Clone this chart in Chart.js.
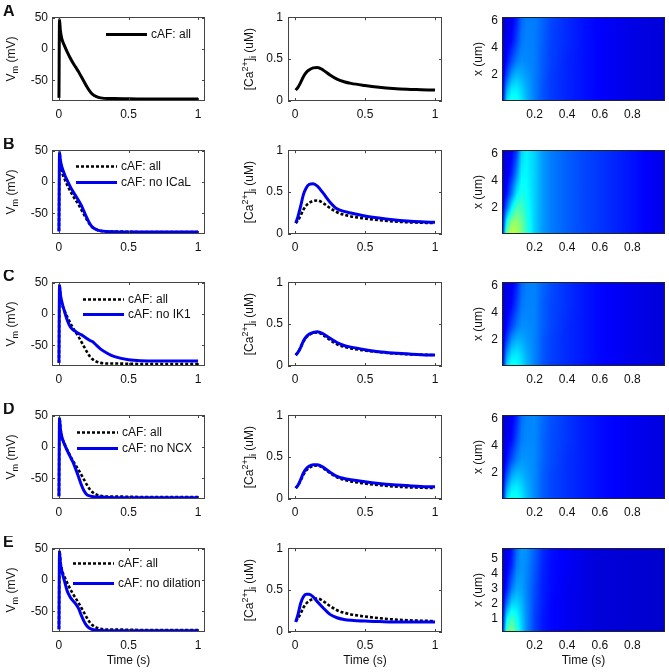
<!DOCTYPE html>
<html>
<head>
<meta charset="utf-8">
<script src="https://cdn.jsdelivr.net/npm/chart.js@4/dist/chart.umd.min.js"></script>
<style>
  html, body { margin: 0; padding: 0; background: #fff; }
  #fig { position: relative; width: 669px; height: 672px; overflow: hidden; background: #fff; }
  .panel { position: absolute; }
</style>
</head>
<body>
<div id="fig"></div>
<script>
// Membrane potential (mV)
const vmTime = [0, 0.004, 0.01, 0.02, 0.04, 0.06, 0.08, 0.1, 0.12, 0.14, 0.16, 0.18, 0.2, 0.22, 0.24, 0.27, 0.3, 0.35, 0.4, 0.5, 0.7, 1.0];
const vmAll        = [-78, 47, 30, 17, 5, -5, -14, -22, -29, -36, -44, -52, -60, -67, -72, -76, -78, -79, -79, -79.5, -80, -80];
const vmNoICaL     = [-79, 48, 35, 25, 12, 2, -7, -15, -22, -29, -37, -47, -57, -66, -72, -76, -78, -79, -79.5, -80, -80, -80];
const vmNoIK1      = [-78, 46, 32, 20, 4, -10, -20, -25, -28, -31, -33, -36, -39, -42, -44, -50, -56, -63, -68, -73, -75, -75];
const vmNoNCX      = [-79, 46, 30, 17, 4, -6, -15, -24, -35, -47, -60, -70, -76, -78, -79, -80, -80, -80.5, -81, -81, -81, -81];
const vmNoDilation = [-79, 45, 28, 15, -2, -18, -27, -33, -38, -45, -56, -66, -73, -77, -79, -80, -80.5, -81, -81, -81, -81, -81];

// Cytosolic calcium (uM)
const caTime = [0.005, 0.02, 0.04, 0.06, 0.08, 0.1, 0.13, 0.16, 0.2, 0.25, 0.3, 0.35, 0.4, 0.5, 0.6, 0.7, 0.8, 0.9, 1.0];
const caAll        = [0.13, 0.16, 0.22, 0.29, 0.34, 0.37, 0.395, 0.40, 0.37, 0.31, 0.26, 0.23, 0.21, 0.185, 0.165, 0.15, 0.14, 0.135, 0.13];
const caNoICaL     = [0.13, 0.2, 0.33, 0.47, 0.55, 0.59, 0.60, 0.57, 0.49, 0.38, 0.3, 0.27, 0.25, 0.215, 0.19, 0.17, 0.155, 0.145, 0.14];
const caNoIK1      = [0.13, 0.16, 0.22, 0.3, 0.35, 0.38, 0.40, 0.41, 0.385, 0.33, 0.28, 0.245, 0.225, 0.195, 0.17, 0.155, 0.145, 0.135, 0.13];
const caNoNCX      = [0.13, 0.16, 0.23, 0.31, 0.36, 0.39, 0.41, 0.41, 0.38, 0.32, 0.27, 0.245, 0.23, 0.205, 0.185, 0.17, 0.16, 0.15, 0.145];
const caNoDilation = [0.12, 0.2, 0.34, 0.42, 0.45, 0.45, 0.42, 0.36, 0.29, 0.21, 0.17, 0.15, 0.14, 0.13, 0.125, 0.12, 0.12, 0.12, 0.12];

// Ca (uM) over time and depth, rows follow heatDepth
const heatTime  = [0, 0.03, 0.06, 0.09, 0.12, 0.15, 0.2, 0.25, 0.3, 0.4, 0.5, 0.6, 0.8, 1.0];
const heatDepth = [0.1, 1, 2, 3, 4.5, 6.25];
const heatA = [
  [0.15, 0.60, 0.68, 0.66, 0.60, 0.52, 0.42, 0.35, 0.31, 0.27, 0.24, 0.21, 0.17, 0.15],
  [0.15, 0.48, 0.60, 0.61, 0.56, 0.50, 0.42, 0.35, 0.31, 0.27, 0.24, 0.21, 0.17, 0.15],
  [0.15, 0.33, 0.47, 0.52, 0.50, 0.47, 0.42, 0.36, 0.31, 0.27, 0.24, 0.21, 0.17, 0.15],
  [0.14, 0.24, 0.34, 0.42, 0.45, 0.44, 0.42, 0.36, 0.32, 0.27, 0.24, 0.21, 0.17, 0.15],
  [0.14, 0.18, 0.23, 0.32, 0.41, 0.43, 0.42, 0.37, 0.32, 0.28, 0.24, 0.21, 0.17, 0.15],
  [0.14, 0.16, 0.19, 0.26, 0.38, 0.42, 0.42, 0.38, 0.33, 0.28, 0.24, 0.21, 0.17, 0.15]
];
const heatB = [
  [0.15, 0.85, 0.97, 0.94, 0.84, 0.72, 0.56, 0.47, 0.42, 0.37, 0.33, 0.3, 0.24, 0.17],
  [0.15, 0.66, 0.86, 0.88, 0.81, 0.70, 0.56, 0.47, 0.42, 0.37, 0.33, 0.3, 0.24, 0.17],
  [0.15, 0.4, 0.63, 0.76, 0.75, 0.67, 0.56, 0.47, 0.42, 0.37, 0.33, 0.3, 0.24, 0.17],
  [0.15, 0.25, 0.42, 0.61, 0.68, 0.65, 0.56, 0.47, 0.42, 0.37, 0.33, 0.3, 0.24, 0.17],
  [0.15, 0.18, 0.27, 0.44, 0.62, 0.63, 0.56, 0.47, 0.42, 0.37, 0.33, 0.3, 0.24, 0.17],
  [0.15, 0.16, 0.2, 0.3, 0.56, 0.62, 0.56, 0.47, 0.42, 0.37, 0.33, 0.3, 0.24, 0.17]
];
const heatC = [
  [0.15, 0.58, 0.67, 0.65, 0.60, 0.52, 0.43, 0.36, 0.32, 0.28, 0.25, 0.22, 0.18, 0.15],
  [0.15, 0.46, 0.58, 0.60, 0.56, 0.50, 0.43, 0.36, 0.32, 0.28, 0.25, 0.22, 0.18, 0.15],
  [0.15, 0.32, 0.46, 0.51, 0.50, 0.47, 0.43, 0.36, 0.32, 0.28, 0.25, 0.22, 0.18, 0.15],
  [0.14, 0.23, 0.33, 0.41, 0.45, 0.45, 0.43, 0.37, 0.33, 0.28, 0.25, 0.22, 0.18, 0.15],
  [0.14, 0.18, 0.23, 0.32, 0.41, 0.43, 0.43, 0.37, 0.33, 0.29, 0.25, 0.22, 0.18, 0.15],
  [0.14, 0.16, 0.19, 0.26, 0.38, 0.42, 0.43, 0.38, 0.34, 0.29, 0.25, 0.22, 0.18, 0.15]
];
const heatD = [
  [0.15, 0.59, 0.68, 0.66, 0.61, 0.53, 0.44, 0.37, 0.33, 0.29, 0.26, 0.23, 0.19, 0.16],
  [0.15, 0.47, 0.59, 0.61, 0.57, 0.51, 0.44, 0.37, 0.33, 0.29, 0.26, 0.23, 0.19, 0.16],
  [0.15, 0.33, 0.47, 0.52, 0.51, 0.48, 0.44, 0.37, 0.33, 0.29, 0.26, 0.23, 0.19, 0.16],
  [0.14, 0.24, 0.34, 0.42, 0.46, 0.46, 0.44, 0.38, 0.34, 0.29, 0.26, 0.23, 0.19, 0.16],
  [0.14, 0.18, 0.23, 0.33, 0.42, 0.44, 0.44, 0.38, 0.34, 0.30, 0.26, 0.23, 0.19, 0.16],
  [0.14, 0.16, 0.19, 0.27, 0.39, 0.43, 0.44, 0.39, 0.35, 0.30, 0.26, 0.23, 0.19, 0.16]
];
const heatE = [
  [0.15, 0.78, 0.86, 0.72, 0.57, 0.45, 0.32, 0.25, 0.22, 0.19, 0.17, 0.15, 0.14, 0.13],
  [0.15, 0.62, 0.74, 0.66, 0.55, 0.45, 0.32, 0.25, 0.22, 0.19, 0.17, 0.15, 0.14, 0.13],
  [0.15, 0.4, 0.56, 0.57, 0.52, 0.44, 0.33, 0.26, 0.22, 0.19, 0.17, 0.15, 0.14, 0.13],
  [0.14, 0.26, 0.41, 0.49, 0.48, 0.43, 0.34, 0.26, 0.23, 0.19, 0.17, 0.15, 0.14, 0.13],
  [0.14, 0.19, 0.28, 0.42, 0.46, 0.44, 0.36, 0.27, 0.23, 0.2, 0.17, 0.15, 0.14, 0.13],
  [0.14, 0.16, 0.22, 0.37, 0.47, 0.46, 0.38, 0.29, 0.24, 0.2, 0.17, 0.15, 0.14, 0.13]
];

const timeTicks = [0, 0.5, 1];
const vmTicks = [-50, 0, 50];
const caTicks = [0, 0.5, 1];
const heatTimeTicks = [0.2, 0.4, 0.6, 0.8];
const depthTicks = [2, 4, 6];
const depthTicksE = [1, 2, 3, 4, 5];

const FONT = "Arial, 'Liberation Sans', sans-serif";
const TEXT = "#111";

// page geometry
const colLeft = [52, 288, 502];
const colW = [153, 154, 163];
const padR = [12, 12, 4];
const rowTop = [17, 150, 282, 415, 548];
const PLOT_H = 84;
const PAD_L = 50;
const PAD_T = 12;

const solidBlack = { borderColor: "#000", borderWidth: 3, borderDash: [] };
const dashedBlack = { borderColor: "#000", borderWidth: 2.6, borderDash: [3, 2] };
const solidBlue = { borderColor: "#0000f0", borderWidth: 3, borderDash: [] };

const rows = [
  { letter: "A", vm: vmAll, ca: caAll, other: null, otherCa: null, label: null, heat: heatA, dMin: 0.1, dMax: 6.25, dTicks: depthTicks, legend: { x: 54, y0: 17, dy: 16 } },
  { letter: "B", vm: vmAll, ca: caAll, other: vmNoICaL, otherCa: caNoICaL, label: "cAF: no ICaL", heat: heatB, dMin: 0.1, dMax: 6.25, dTicks: depthTicks, legend: { x: 24, y0: 16, dy: 16 } },
  { letter: "C", vm: vmAll, ca: caAll, other: vmNoIK1, otherCa: caNoIK1, label: "cAF: no IK1", heat: heatC, dMin: 0.1, dMax: 6.25, dTicks: depthTicks, legend: { x: 31, y0: 17, dy: 15 } },
  { letter: "D", vm: vmAll, ca: caAll, other: vmNoNCX, otherCa: caNoNCX, label: "cAF: no NCX", heat: heatD, dMin: 0.1, dMax: 6.25, dTicks: depthTicks, legend: { x: 25, y0: 17, dy: 16 } },
  { letter: "E", vm: vmAll, ca: caAll, other: vmNoDilation, otherCa: caNoDilation, label: "cAF: no dilation", heat: heatE, dMin: 0.08, dMax: 5.7, dTicks: depthTicksE, legend: { x: 21, y0: 15, dy: 20 } }
];

function series(time, values, style, label, order) {
  return {
    label: label,
    data: time.map((t, i) => ({ x: t, y: values[i] })),
    borderColor: style.borderColor,
    borderWidth: style.borderWidth,
    borderDash: style.borderDash,
    pointRadius: 0,
    fill: false,
    cubicInterpolationMode: "monotone",
    order: order
  };
}

function jet(v) {
  const c = (x) => Math.max(0, Math.min(1, x));
  return [c(1.5 - Math.abs(4 * v - 3)), c(1.5 - Math.abs(4 * v - 2)), c(1.5 - Math.abs(4 * v - 1))];
}

function findSeg(arr, v) {
  if (v <= arr[0]) return [0, 0];
  if (v >= arr[arr.length - 1]) return [arr.length - 2, 1];
  for (let i = 0; i < arr.length - 1; i++) {
    if (v <= arr[i + 1]) return [i, (v - arr[i]) / (arr[i + 1] - arr[i])];
  }
  return [arr.length - 2, 1];
}

// draws rotated axis title with sub/superscripts
function drawRotated(ctx, parts, cx, cy) {
  const big = "12px " + FONT, small = "9px " + FONT;
  const widths = parts.map(p => { ctx.font = p.shift ? small : big; return ctx.measureText(p.text).width; });
  const total = widths.reduce((a, b) => a + b, 0);
  ctx.translate(cx, cy);
  ctx.rotate(-Math.PI / 2);
  ctx.textAlign = "left";
  ctx.textBaseline = "middle";
  let x = -total / 2;
  parts.forEach((p, i) => {
    ctx.font = p.shift ? small : big;
    ctx.fillText(p.text, x, p.shift || 0);
    x += widths[i];
  });
}

function framePlugin(withTicks, color) {
  return {
    id: "frame",
    afterDatasetsDraw(chart) {
      const ctx = chart.ctx, a = chart.chartArea;
      ctx.save();
      ctx.strokeStyle = color;
      ctx.lineWidth = 1;
      ctx.setLineDash([]);
      ctx.strokeRect(Math.round(a.left) + 0.5, Math.round(a.top) + 0.5, Math.round(a.right - a.left) - 1, Math.round(a.bottom - a.top) - 1);
      if (withTicks) {
        const xs = chart.scales.x, ys = chart.scales.y;
        ctx.beginPath();
        xs.ticks.forEach(t => {
          const px = Math.round(xs.getPixelForValue(t.value)) + 0.5;
          ctx.moveTo(px, a.bottom); ctx.lineTo(px, a.bottom - 3);
          ctx.moveTo(px, a.top); ctx.lineTo(px, a.top + 3);
        });
        ys.ticks.forEach(t => {
          const py = Math.round(ys.getPixelForValue(t.value)) + 0.5;
          ctx.moveTo(a.left, py); ctx.lineTo(a.left + 3, py);
          ctx.moveTo(a.right, py); ctx.lineTo(a.right - 3, py);
        });
        ctx.stroke();
      }
      ctx.restore();
    }
  };
}

function decorPlugin(opts) {
  return {
    id: "decor",
    afterDraw(chart) {
      const ctx = chart.ctx, a = chart.chartArea;
      ctx.save();
      ctx.fillStyle = TEXT;
      if (opts.xTitle) {
        ctx.font = "12px " + FONT;
        ctx.textAlign = "center";
        ctx.textBaseline = "middle";
        ctx.fillText(opts.xTitle, (a.left + a.right) / 2, a.bottom + 29);
      }
      if (opts.letter) {
        ctx.font = "bold 16px " + FONT;
        ctx.textAlign = "left";
        ctx.textBaseline = "alphabetic";
        ctx.fillText(opts.letter, 1, a.top - 1);
      }
      drawRotated(ctx, opts.title, opts.titleX, (a.top + a.bottom) / 2);
      ctx.restore();
    }
  };
}

function legendPlugin(spec) {
  return {
    id: "lineLegend",
    afterDatasetsDraw(chart) {
      const ctx = chart.ctx, a = chart.chartArea;
      chart.data.datasets.forEach((ds, k) => {
        const y = Math.round(a.top + spec.y0 + k * spec.dy) + 0.5;
        const x0 = a.left + spec.x;
        ctx.save();
        ctx.strokeStyle = ds.borderColor;
        ctx.lineWidth = ds.borderWidth;
        ctx.setLineDash(ds.borderDash || []);
        ctx.beginPath(); ctx.moveTo(x0, y); ctx.lineTo(x0 + 41, y); ctx.stroke();
        ctx.fillStyle = TEXT;
        ctx.font = "12px " + FONT;
        ctx.textAlign = "left";
        ctx.textBaseline = "middle";
        ctx.fillText(ds.label, x0 + 45, y);
        ctx.restore();
      });
    }
  };
}

function heatPlugin(grid, cmax) {
  return {
    id: "heat",
    beforeDatasetsDraw(chart) {
      const ctx = chart.ctx, a = chart.chartArea, xs = chart.scales.x, ys = chart.scales.y;
      const L = Math.round(a.left), T = Math.round(a.top);
      const W = Math.round(a.right) - L, H = Math.round(a.bottom) - T;
      const img = ctx.createImageData(W, H);
      for (let j = 0; j < H; j++) {
        const [r0, fr] = findSeg(heatDepth, ys.getValueForPixel(T + j + 0.5));
        for (let i = 0; i < W; i++) {
          const [c0, fc] = findSeg(heatTime, xs.getValueForPixel(L + i + 0.5));
          const v00 = grid[r0][c0], v01 = grid[r0][c0 + 1], v10 = grid[r0 + 1][c0], v11 = grid[r0 + 1][c0 + 1];
          const v = (v00 * (1 - fc) + v01 * fc) * (1 - fr) + (v10 * (1 - fc) + v11 * fc) * fr;
          const col = jet(v / cmax);
          const p = (j * W + i) * 4;
          img.data[p] = col[0] * 255; img.data[p + 1] = col[1] * 255; img.data[p + 2] = col[2] * 255; img.data[p + 3] = 255;
        }
      }
      ctx.putImageData(img, L, T);
    }
  };
}

function axis(min, max, ticks, pad) {
  return {
    type: "linear", min: min, max: max,
    grid: { display: false, drawTicks: false, tickLength: 0 }, border: { display: false },
    ticks: { padding: pad, autoSkip: false, maxRotation: 0, color: TEXT, font: { size: 12, family: FONT }, callback: v => String(v) },
    afterBuildTicks: s => { s.ticks = ticks.map(v => ({ value: v })); }
  };
}

function makePanel(col, row, type, datasets, xAx, yAx, plugins) {
  const padB = row === 4 ? 40 : 24;
  const w = PAD_L + colW[col] + padR[col];
  const h = PAD_T + PLOT_H + padB;
  const div = document.createElement("div");
  div.className = "panel";
  div.style.left = (colLeft[col] - PAD_L) + "px";
  div.style.top = (rowTop[row] - PAD_T) + "px";
  div.style.width = w + "px";
  div.style.height = h + "px";
  const cv = document.createElement("canvas");
  cv.width = w; cv.height = h;
  cv.style.width = w + "px"; cv.style.height = h + "px";
  div.appendChild(cv);
  document.getElementById("fig").appendChild(div);
  xAx.afterFit = s => { s.height = padB; };
  yAx.afterFit = s => { s.width = PAD_L; };
  return new Chart(cv, {
    type: type,
    data: { datasets: datasets },
    options: {
      responsive: false, animation: false, devicePixelRatio: 1,
      layout: { padding: { top: PAD_T, right: padR[col], left: 0, bottom: 0 } },
      plugins: { legend: { display: false }, tooltip: { enabled: false } },
      scales: { x: xAx, y: yAx }
    },
    plugins: plugins
  });
}

const vmTitle = [{ text: "V" }, { text: "m", shift: 4 }, { text: " (mV)" }];
const caTitle = [{ text: "[Ca" }, { text: "2+", shift: -4 }, { text: "]" }, { text: "i", shift: 4 }, { text: " (uM)" }];
const xTitle = [{ text: "x (um)" }];

rows.forEach((r, k) => {
  const last = k === rows.length - 1;
  const tLabel = last ? "Time (s)" : null;

  // column 1: membrane potential
  const vmSets = r.other
    ? [series(vmTime, r.vm, dashedBlack, "cAF: all", 1), series(vmTime, r.other, solidBlue, r.label, 0)]
    : [series(vmTime, r.vm, solidBlack, "cAF: all", 1)];
  makePanel(0, k, "line", vmSets,
    axis(-0.05, 1.05, timeTicks, 6), axis(-83, 51, vmTicks, 4),
    [framePlugin(true, "#444"), legendPlugin(r.legend), decorPlugin({ title: vmTitle, titleX: 10, letter: r.letter, xTitle: tLabel })]);

  // column 2: calcium transient
  const caSets = r.otherCa
    ? [series(caTime, r.ca, dashedBlack, "cAF: all", 1), series(caTime, r.otherCa, solidBlue, r.label, 0)]
    : [series(caTime, r.ca, solidBlack, "cAF: all", 1)];
  makePanel(1, k, "line", caSets,
    axis(-0.05, 1.05, timeTicks, 6), axis(0, 1, caTicks, 5),
    [framePlugin(true, "#444"), decorPlugin({ title: caTitle, titleX: 12, xTitle: tLabel })]);

  // column 3: spatial calcium map
  makePanel(2, k, "scatter", [{ data: [], pointRadius: 0 }],
    axis(0, 1, heatTimeTicks, 6), axis(r.dMin, r.dMax, r.dTicks, 4),
    [heatPlugin(r.heat, 1.7), framePlugin(false, "#222"), decorPlugin({ title: xTitle, titleX: 27, xTitle: tLabel })]);
});
</script>
</body>
</html>
